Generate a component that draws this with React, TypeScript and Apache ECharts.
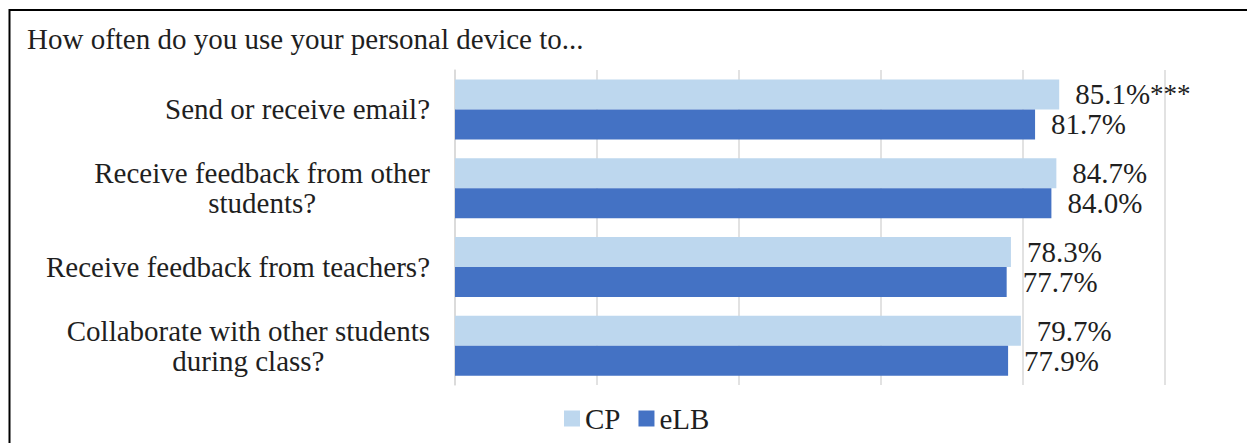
import React, { useEffect, useRef } from "react";
import * as echarts from "echarts";

// Survey items (multi-line items break with "\n")
const categories = [
  "Send or receive email?",
  "Receive feedback from other\nstudents?",
  "Receive feedback from teachers?",
  "Collaborate with other students\nduring class?",
];

// Percent of respondents, by group
const cpValues = [85.1, 84.7, 78.3, 79.7];
const elbValues = [81.7, 84.0, 77.7, 77.9];

// Significance markers shown after the CP value
const significance = ["***", "", "", ""];

const xTicks = [0, 20, 40, 60, 80, 100];

const FONT = '"Liberation Serif", "Times New Roman", serif';
const TEXT = "#1f1f1f";
const GRID = "#d9d9d9";

export default function App() {
  const ref = useRef<HTMLDivElement>(null);

  useEffect(() => {
    if (!ref.current) return;
    const chart = echarts.init(ref.current, undefined, { renderer: "svg" });

    const valueLabel = (marks?: string[]) => ({
      show: true,
      position: "right" as const,
      distance: 16,
      formatter: (p: any) => {
        const star = marks ? marks[p.dataIndex] : "";
        return `{v|${Number(p.value).toFixed(1)}%}` + (star ? `{s|${star}}` : "");
      },
      rich: {
        v: { fontFamily: FONT, fontSize: 29, color: TEXT },
        s: { fontFamily: FONT, fontSize: 27, color: TEXT },
      },
    });

    chart.setOption({
      animation: false,
      backgroundColor: "#ffffff",
      title: {
        text: "How often do you use your personal device to...",
        left: 27,
        top: 24,
        padding: 0,
        textStyle: {
          fontFamily: FONT,
          fontSize: 29,
          lineHeight: 29,
          fontWeight: "normal",
          color: TEXT,
        },
      },
      graphic: [
        {
          type: "rect",
          shape: { x: 9.5, y: 10, width: 1400, height: 700 },
          style: { fill: "none", stroke: "#000000", lineWidth: 2 },
          silent: true,
          z: 100,
        },
      ],
      legend: {
        data: ["CP", "eLB"],
        left: 564,
        top: 404,
        padding: 0,
        itemGap: 18,
        itemWidth: 16,
        itemHeight: 16,
        icon: "rect",
        textStyle: {
          fontFamily: FONT,
          fontSize: 29,
          lineHeight: 28,
          color: TEXT,
          padding: [0, 0, 0, 0],
        },
      },
      grid: { left: 455, right: 82, top: 70, bottom: 58, containLabel: false },
      xAxis: {
        type: "value",
        min: xTicks[0],
        max: xTicks[xTicks.length - 1],
        interval: xTicks[1] - xTicks[0],
        axisLabel: { show: false },
        axisLine: { show: false },
        axisTick: { show: false },
        splitLine: { show: true, lineStyle: { color: GRID, width: 1.5 } },
      },
      yAxis: {
        type: "category",
        data: categories,
        inverse: true,
        axisLine: { show: true, lineStyle: { color: GRID, width: 1.5 } },
        axisTick: { show: false },
        axisLabel: {
          margin: 25,
          align: "right",
          formatter: (v: string) =>
            v
              .split("\n")
              .map((line) => `{c|${line}}`)
              .join("\n"),
          rich: {
            c: {
              align: "center",
              fontFamily: FONT,
              fontSize: 29,
              lineHeight: 30,
              color: TEXT,
            },
          },
        },
      },
      series: [
        {
          name: "CP",
          type: "bar",
          data: cpValues,
          barWidth: 30,
          barGap: "0%",
          itemStyle: { color: "#bdd7ee" },
          label: valueLabel(significance),
        },
        {
          name: "eLB",
          type: "bar",
          data: elbValues,
          barWidth: 30,
          barGap: "0%",
          itemStyle: { color: "#4472c4" },
          label: valueLabel(),
        },
      ],
    });

    return () => chart.dispose();
  }, []);

  return (
    <div
      ref={ref}
      style={{
        position: "fixed",
        left: 0,
        top: 0,
        width: 1247,
        height: 443,
        background: "#ffffff",
      }}
    />
  );
}
